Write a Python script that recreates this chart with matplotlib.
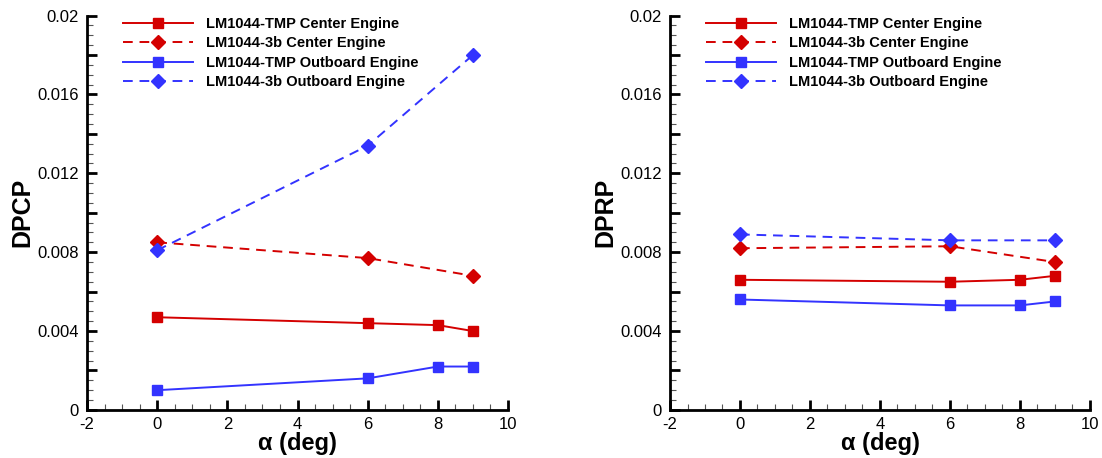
import matplotlib
matplotlib.use("Agg")
import matplotlib.pyplot as plt
from matplotlib.ticker import MultipleLocator, FuncFormatter

plt.rcParams['font.family'] = ['Liberation Sans', 'DejaVu Sans']
plt.rcParams['axes.unicode_minus'] = False

# dados
alpha_tmp = [0, 6, 8, 9]
alpha_3b = [0, 6, 9]

dpcp_tmp_center = [0.0047, 0.0044, 0.0043, 0.0040]
dpcp_3b_center = [0.0085, 0.0077, 0.0068]
dpcp_tmp_outboard = [0.0010, 0.0016, 0.0022, 0.0022]
dpcp_3b_outboard = [0.0081, 0.0134, 0.0180]

dprp_tmp_center = [0.0066, 0.0065, 0.0066, 0.0068]
dprp_3b_center = [0.0082, 0.0083, 0.0075]
dprp_tmp_outboard = [0.0056, 0.0053, 0.0053, 0.0055]
dprp_3b_outboard = [0.0089, 0.0086, 0.0086]

labels = ['LM1044-TMP Center Engine', 'LM1044-3b Center Engine',
          'LM1044-TMP Outboard Engine', 'LM1044-3b Outboard Engine']

RED = '#d40000'
BLUE = '#3333ff'


def rotulo_y(v, p):
    # so mostra rotulo a cada 0.004
    if round(v / 0.002) % 2 != 0:
        return ''
    if abs(v) < 1e-9:
        return '0'
    return '%g' % round(v, 4)


def desenhar(ax, tmp_c, b3_c, tmp_o, b3_o, ylabel):
    ax.plot(alpha_tmp, tmp_c, '-', color=RED, marker='s', ms=7.5, lw=1.4, label=labels[0])
    ax.plot(alpha_3b, b3_c, '--', color=RED, marker='D', ms=7.5, lw=1.4, dashes=(5, 3.5), label=labels[1])
    ax.plot(alpha_tmp, tmp_o, '-', color=BLUE, marker='s', ms=7.5, lw=1.4, label=labels[2])
    ax.plot(alpha_3b, b3_o, '--', color=BLUE, marker='D', ms=7.5, lw=1.4, dashes=(5, 3.5), label=labels[3])

    ax.set_xlim(-2, 10)
    ax.set_ylim(0, 0.02)
    ax.spines['top'].set_visible(False)
    ax.spines['right'].set_visible(False)
    ax.spines['left'].set_linewidth(2)
    ax.spines['bottom'].set_linewidth(2)

    ax.xaxis.set_major_locator(MultipleLocator(2))
    ax.xaxis.set_minor_locator(MultipleLocator(0.5))
    ax.yaxis.set_major_locator(MultipleLocator(0.002))
    ax.yaxis.set_minor_locator(MultipleLocator(0.0005))
    ax.yaxis.set_major_formatter(FuncFormatter(rotulo_y))
    ax.tick_params(which='major', direction='in', length=7, width=2, labelsize=12)
    ax.tick_params(axis='y', which='major', pad=6)
    ax.tick_params(axis='x', which='major', pad=5)
    ax.tick_params(which='minor', direction='in', length=4, width=0.8, color='#555555')

    ax.set_xlabel('α (deg)', fontsize=17, fontweight='bold', labelpad=0)
    ax.set_ylabel(ylabel, fontsize=18, fontweight='bold', labelpad=2)

    ax.legend(loc='upper left', bbox_to_anchor=(0.055, 1.03), frameon=False,
              handlelength=4.8, handletextpad=0.9, labelspacing=0.38,
              prop={'weight': 'bold', 'size': 10.5})


fig = plt.figure(figsize=(11.02, 4.58), dpi=100)
ax1 = fig.add_axes([0.079, 0.105, 0.382, 0.861])
ax2 = fig.add_axes([0.608, 0.105, 0.381, 0.861])

desenhar(ax1, dpcp_tmp_center, dpcp_3b_center, dpcp_tmp_outboard, dpcp_3b_outboard, 'DPCP')
desenhar(ax2, dprp_tmp_center, dprp_3b_center, dprp_tmp_outboard, dprp_3b_outboard, 'DPRP')

fig.savefig('out.png', dpi=100)
